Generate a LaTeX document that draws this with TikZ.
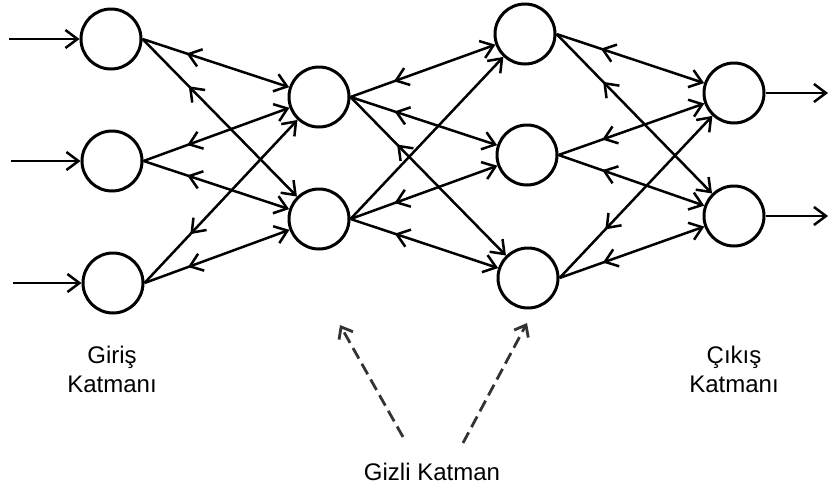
\documentclass[tikz,border=0pt]{standalone}
\usepackage{fontspec}
\setmainfont{Liberation Sans}
\usetikzlibrary{positioning, arrows.meta, decorations.markings}

\begin{document}
\begin{tikzpicture}[x=1pt, y=-1pt]
  \tikzset{
    neuron/.style={
      draw,
      circle,
      line width=3pt,
      minimum size=60pt,
      inner sep=0pt
    },
    feed/.style={
      line width=2.5pt,
      -{Straight Barb[length=12pt,width=18pt]}
    },
    link/.style={
      feed,
      postaction={decorate},
      decoration={markings,
        mark=at position 0.3 with {\arrowreversed{Straight Barb[length=12pt,width=18pt]}}}
    },
    hint/.style={
      line width=2.8pt,
      black!80,
      dash pattern=on 12pt off 6pt,
      -{Straight Barb[length=10pt,width=16pt]}
    },
    caption/.style={
      font=\fontsize{24}{29}\selectfont,
      align=center,
      anchor=base
    }
  }
  \useasboundingbox (0,0) rectangle (830,488);

  % Input layer
  \node[neuron] at (111, 39) (in1) {};
  \node[neuron] at (112, 161) (in2) {};
  \node[neuron] at (113, 283) (in3) {};

  % First hidden layer
  \node[neuron] at (319, 97) (ha1) {};
  \node[neuron] at (319, 219) (ha2) {};

  % Second hidden layer
  \node[neuron] at (525, 34) (hb1) {};
  \node[neuron] at (527, 155) (hb2) {};
  \node[neuron] at (528, 278) (hb3) {};

  % Output layer
  \node[neuron] at (734, 93) (out1) {};
  \node[neuron] at (734, 216) (out2) {};

  % Signals coming in and going out
  \coordinate (src1) at (9, 39);
  \coordinate (src2) at (11, 161);
  \coordinate (src3) at (13, 283);
  \coordinate (dst1) at (828, 93);
  \coordinate (dst2) at (828, 216);
  \draw[feed] (src1) -- (in1);
  \draw[feed] (src2) -- (in2);
  \draw[feed] (src3) -- (in3);
  \draw[feed] (out1) -- (dst1);
  \draw[feed] (out2) -- (dst2);

  % Input -> first hidden
  \draw[link] (in1.east) -- (ha1);
  \draw[link] (in1.east) -- (ha2);
  \draw[link] (in2.east) -- (ha1);
  \draw[link] (in2.east) -- (ha2);
  \draw[link] (in3.east) -- (ha1);
  \draw[link] (in3.east) -- (ha2);

  % First hidden -> second hidden
  \draw[link] (ha1.east) -- (hb1);
  \draw[link] (ha1.east) -- (hb2);
  \draw[link] (ha1.east) -- (hb3);
  \draw[feed] (ha2.east) -- (hb1);
  \draw[link] (ha2.east) -- (hb2);
  \draw[link] (ha2.east) -- (hb3);

  % Second hidden -> output
  \draw[link] (hb1.east) -- (out1);
  \draw[link] (hb1.east) -- (out2);
  \draw[link] (hb2.east) -- (out1);
  \draw[link] (hb2.east) -- (out2);
  \draw[link] (hb3.east) -- (out1);
  \draw[link] (hb3.east) -- (out2);

  % Layer names (base is the last line)
  \node[caption] at (112, 392) (inname) {Giriş\\Katmanı};
  \node[caption] at (734, 392) (outname) {Çıkış\\Katmanı};
  \node[caption] at (432, 480) (hidname) {Gizli Katman};

  % Pointers to the hidden layers
  \coordinate (hintL) at (403, 437);
  \coordinate (tipL) at (340, 325);
  \coordinate (hintR) at (463, 443);
  \coordinate (tipR) at (527, 323);
  \draw[hint] (hintL) -- (tipL);
  \draw[hint] (hintR) -- (tipR);
\end{tikzpicture}
\end{document}
